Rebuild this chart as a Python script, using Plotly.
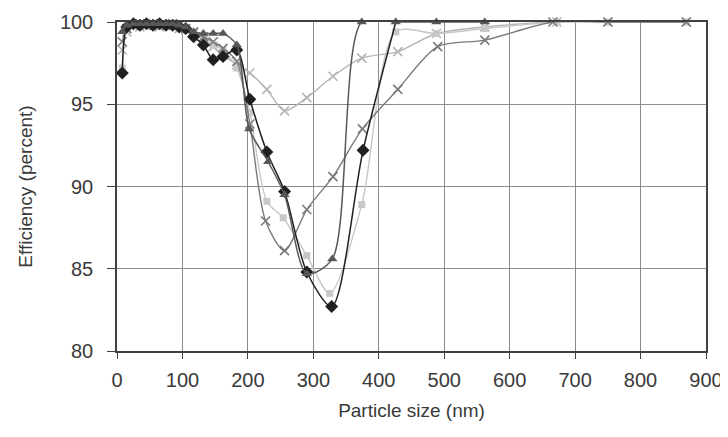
import plotly.graph_objects as go

# ---- data ----
diamond_x = [8, 15, 25, 35, 45, 55, 65, 75, 85, 95, 105, 117, 132, 147, 162, 183, 203, 229, 256, 290, 328, 376, 426]
diamond_y = [96.9, 99.7, 99.9, 99.8, 99.9, 99.8, 99.9, 99.8, 99.8, 99.7, 99.6, 99.1, 98.6, 97.7, 97.9, 98.3, 95.3, 92.1, 89.7, 84.8, 82.7, 92.2, 100]

triangle_x = [8, 15, 25, 35, 45, 55, 65, 75, 85, 95, 105, 117, 132, 147, 162, 183, 202, 231, 256, 290, 329, 374, 426, 488, 562]
triangle_y = [99.4, 99.8, 99.9, 99.9, 99.9, 99.9, 99.9, 99.9, 99.9, 99.8, 99.7, 99.4, 99.3, 99.3, 99.3, 98.6, 93.5, 91.5, 89.5, 84.7, 85.6, 100, 100, 100, 100]

square_x = [8, 15, 25, 35, 45, 55, 65, 75, 85, 95, 105, 117, 132, 147, 162, 183, 203, 229, 254, 290, 325, 374, 426, 488, 562, 672, 750, 870]
square_y = [97.2, 99.5, 99.8, 99.8, 99.9, 99.8, 99.8, 99.9, 99.8, 99.7, 99.5, 99.3, 99.0, 98.6, 98.3, 97.2, 94.5, 89.1, 88.1, 85.8, 83.5, 88.9, 99.4, 99.3, 99.6, 100, 100, 100]

shallow_x = [8, 15, 25, 35, 45, 55, 65, 75, 85, 95, 105, 117, 132, 147, 162, 183, 203, 229, 256, 290, 330, 374, 429, 488, 562, 672, 750, 870]
shallow_y = [98.3, 99.4, 99.8, 99.7, 99.8, 99.8, 99.7, 99.8, 99.8, 99.6, 99.5, 99.3, 98.9, 98.5, 98.0, 97.4, 96.9, 95.9, 94.6, 95.4, 96.7, 97.8, 98.2, 99.3, 99.7, 100, 100, 100]

deep_x = [8, 15, 25, 35, 45, 55, 65, 75, 85, 95, 105, 117, 132, 147, 162, 183, 203, 227, 256, 290, 330, 375, 429, 490, 562, 666, 750, 870]
deep_y = [98.8, 99.6, 99.8, 99.9, 99.8, 99.9, 99.8, 99.8, 99.9, 99.8, 99.6, 99.4, 99.1, 98.8, 98.4, 97.6, 93.8, 87.9, 86.1, 88.6, 90.6, 93.5, 95.9, 98.5, 98.9, 100, 100, 100]

x_ticks = [0, 100, 200, 300, 400, 500, 600, 700, 800, 900]
y_ticks = [80, 85, 90, 95, 100]

FONT = "Liberation Sans, Arial, sans-serif"

fig = go.Figure()


def add(xs, ys, color, symbol, size, lw=1.5, mlw=0):
    fig.add_trace(go.Scatter(
        x=xs, y=ys, mode="lines+markers",
        line=dict(color=color, width=lw, shape="spline", smoothing=0.8),
        marker=dict(symbol=symbol, size=size, color=color, opacity=1,
                    line=dict(color=color, width=mlw)),
        showlegend=False, cliponaxis=False,
    ))


add(shallow_x, shallow_y, "#b4b4b4", "x-thin-open", 9, lw=1.4, mlw=1.6)
add(square_x, square_y, "#c8c8c8", "square", 7, lw=1.4)
add(deep_x, deep_y, "#7a7a7a", "x-thin-open", 9, lw=1.4, mlw=1.6)
# last diamond point sits under the triangle marker at the top
add(diamond_x, diamond_y, "#202020", "diamond",
    [10] * (len(diamond_x) - 1) + [0], lw=1.5)
add(triangle_x, triangle_y, "#585858", "triangle-up", 9, lw=1.5)

# page body has an 8px margin, so the figure is sized/offset to compensate
fig.update_layout(
    width=720, height=413,
    margin=dict(l=109, r=22, t=14, b=70, autoexpand=False),
    paper_bgcolor="white", plot_bgcolor="white",
    font=dict(family=FONT, size=20, color="#3a3a3a"),
)
fig.update_xaxes(
    range=[0, 900], tickvals=x_ticks, automargin=False,
    showgrid=True, gridcolor="#8c8c8c", gridwidth=1,
    showline=True, linecolor="#404040", linewidth=1.5, mirror=True,
    ticks="outside", ticklen=6, tickcolor="#404040",
    ticklabelstandoff=4,
    zeroline=False,
    title=dict(text="Particle size (nm)", font=dict(size=19), standoff=14),
)
fig.update_yaxes(
    range=[80, 100], tickvals=y_ticks, automargin=False,
    showgrid=True, gridcolor="#8c8c8c", gridwidth=1,
    showline=True, linecolor="#404040", linewidth=1.5, mirror=True,
    ticks="outside", ticklen=8, tickcolor="#404040",
    ticklabelstandoff=10,
    zeroline=False,
    title=dict(text="Efficiency (percent)", font=dict(size=19), standoff=22),
)

fig.write_html("out.html")
